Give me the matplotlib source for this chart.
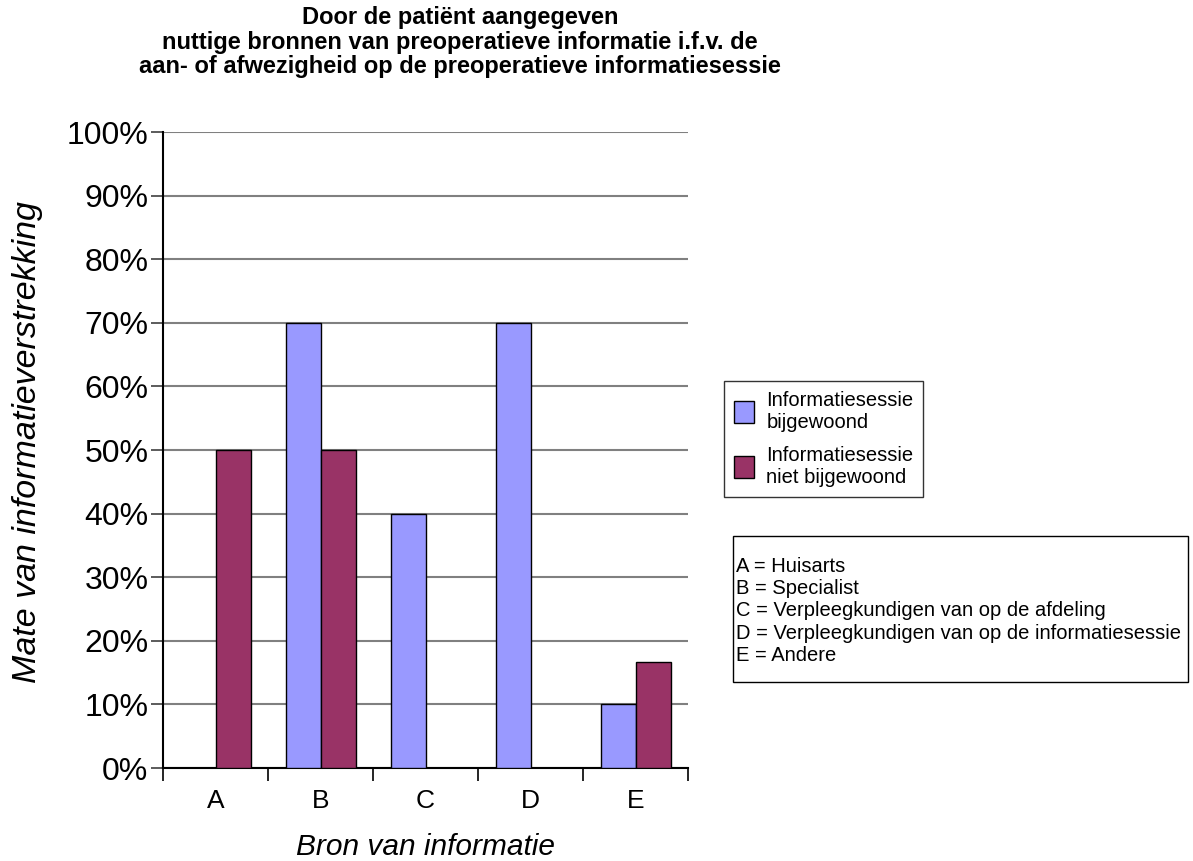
import numpy as np
import matplotlib
matplotlib.use("Agg")
import matplotlib.pyplot as plt
from matplotlib.patches import Rectangle
from matplotlib.ticker import FixedLocator, PercentFormatter

plt.rcParams['font.family'] = ['Liberation Sans', 'DejaVu Sans']

# bronnen van informatie (A-E) en percentages per groep
categories = ['A', 'B', 'C', 'D', 'E']
bijgewoond = [0, 70, 40, 70, 10]
niet_bijgewoond = [50, 50, 0, 0, 16.7]
series_labels = ['Informatiesessie\nbijgewoond', 'Informatiesessie\nniet bijgewoond']
bron_legend = ['A = Huisarts', 'B = Specialist',
               'C = Verpleegkundigen van op de afdeling',
               'D = Verpleegkundigen van op de informatiesessie',
               'E = Andere']
title = ('Door de patiënt aangegeven\n'
         'nuttige bronnen van preoperatieve informatie i.f.v. de\n'
         'aan- of afwezigheid op de preoperatieve informatiesessie')

blue = '#9999FF'
maroon = '#993366'

W, H = 1193, 861
fig = plt.figure(figsize=(W / 100, H / 100), dpi=100)
# plot area in pixels: x 163..688, y 132..768
ax = fig.add_axes([163 / W, (H - 768) / H, 525 / W, 636 / H])

x = np.arange(len(categories))
w = 1 / 3
b1 = ax.bar(x - w / 2, bijgewoond, w, color=blue, edgecolor='black', linewidth=1, zorder=3)
b2 = ax.bar(x + w / 2, niet_bijgewoond, w, color=maroon, edgecolor='black', linewidth=1, zorder=3)

ax.set_xlim(-0.5, len(categories) - 0.5)
ax.set_ylim(0, 100)
ax.yaxis.set_major_locator(FixedLocator(np.arange(0, 101, 10)))
ax.yaxis.set_major_formatter(PercentFormatter(decimals=0))
ax.grid(axis='y', color='#808080', linewidth=1.5, zorder=0)

ax.set_xticks(x)
ax.set_xticklabels(categories)
ax.set_xticks(np.arange(-0.5, len(categories)), minor=True)
ax.tick_params(axis='x', which='major', length=0, pad=15, labelsize=19)
ax.tick_params(axis='x', which='minor', length=9, width=1.2, color='black')
ax.tick_params(axis='y', length=9, width=1.2, color='#404040', pad=1.5, labelsize=23)

for side in ['top', 'right']:
    ax.spines[side].set_visible(False)
ax.spines['left'].set_linewidth(1.5)
ax.spines['bottom'].set_linewidth(1.5)

ax.set_xlabel('Bron van informatie', fontsize=21.5, style='italic', va='baseline')
ax.xaxis.set_label_coords(0.5, (768 - 855) / 636)
ax.set_ylabel('Mate van informatieverstrekking', fontsize=24.5, style='italic', va='center')
ax.yaxis.set_label_coords((28 - 163) / 525, 0.512)

fig.text(460 / W, (H - 42) / H, title, ha='center', va='center', fontsize=17,
         fontweight='bold', linespacing=1.1)

leg = fig.legend([b1, b2], series_labels, loc='upper left',
                 bbox_to_anchor=(724 / W, (H - 381) / H), borderaxespad=0,
                 fontsize=14.5, frameon=True, fancybox=False, edgecolor='black',
                 handlelength=1.0, handleheight=1.3, handletextpad=0.6,
                 borderpad=0.5, labelspacing=0.7)
leg.get_frame().set_linewidth(1)

# kader met de verklaring van de letters
fig.patches.append(Rectangle((733 / W, (H - 682) / H), 455 / W, 146 / H,
                             transform=fig.transFigure, facecolor='white',
                             edgecolor='black', linewidth=1))
fig.text(736 / W, (H - 611) / H, '\n'.join(bron_legend), ha='left', va='center',
         fontsize=14.5, linespacing=1.22)

fig.savefig('out.png', dpi=100)
